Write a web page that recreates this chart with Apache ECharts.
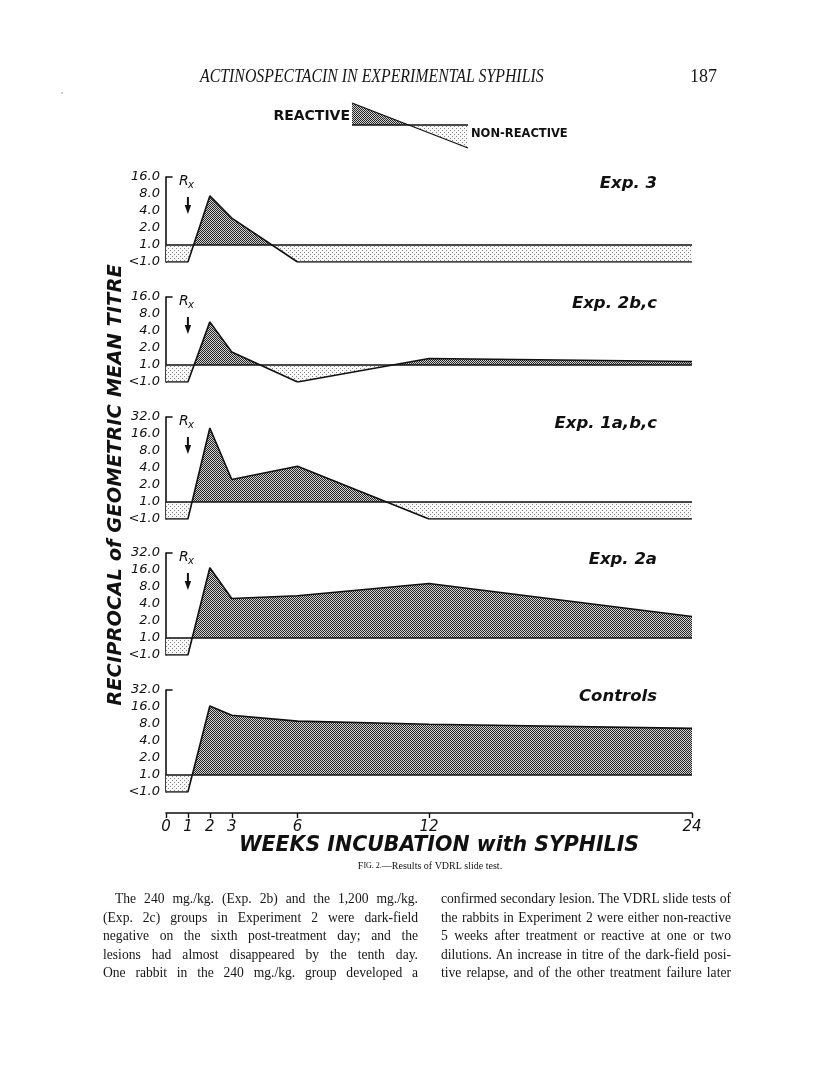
<!DOCTYPE html>
<html>
<head>
<meta charset="utf-8">
<title>Results of VDRL slide test</title>
<script src="https://cdn.jsdelivr.net/npm/echarts@6.0.0/dist/echarts.min.js"></script>
<style>
  html, body { margin: 0; padding: 0; background: #fff; overflow: hidden; }
  #page { position: relative; width: 816px; height: 1087px; overflow: hidden; }
  #chart { position: absolute; left: 0; top: 0; width: 816px; height: 1087px; }
  .serif { position: absolute; font-family: "Liberation Serif", serif; color: #161616; white-space: nowrap; }
  .col { position: absolute; top: 890px; font-family: "Liberation Serif", serif; font-size: 13.6px; line-height: 18.5px; color: #161616; }
  .col div { text-align: justify; text-align-last: justify; white-space: nowrap; }
</style>
</head>
<body>
<div id="page">
  <div id="chart"></div>
  <div class="serif" id="runhead" style="left:200px; top:66px; font-size:18px; font-style:italic; transform:scaleX(0.88); transform-origin:left top;">ACTINOSPECTACIN IN EXPERIMENTAL SYPHILIS</div>
  <div class="serif" style="left:690px; top:66px; font-size:18px;">187</div>
  <div class="col" style="left:103px; width:315px;">
    <div style="padding-left:12px;">The 240 mg./kg. (Exp. 2b) and the 1,200 mg./kg.</div>
    <div>(Exp. 2c) groups in Experiment 2 were dark-field</div>
    <div>negative on the sixth post-treatment day; and the</div>
    <div>lesions had almost disappeared by the tenth day.</div>
    <div>One rabbit in the 240 mg./kg. group developed a</div>
  </div>
  <div class="col" style="left:441px; width:290px;">
    <div>confirmed secondary lesion. The VDRL slide tests of</div>
    <div>the rabbits in Experiment 2 were either non-reactive</div>
    <div>5 weeks after treatment or reactive at one or two</div>
    <div>dilutions. An increase in titre of the dark-field posi-</div>
    <div>tive relapse, and of the other treatment failure later</div>
  </div>
</div>
<script>
// weeks after infection at which the titres were plotted
const weeks = [0, 1, 2, 3, 6, 12, 24];
// reciprocal geometric mean titres, 0.5 stands for "<1.0"
const exp3     = [0.5, 0.5, 7.4, 3.0, 0.5, 0.5, 0.5];
const exp2bc   = [0.5, 0.5, 5.8, 1.7, 0.5, 1.3, 1.15];
const exp1abc  = [0.5, 0.5, 20.4, 2.5, 4.3, 0.5, 0.5];
const exp2a    = [0.5, 0.5, 17.5, 5.0, 5.6, 9.2, 2.4];
const controls = [0.5, 0.5, 16.7, 11.4, 9.0, 7.9, 6.7];

const titreTicks = ['<1.0', '1.0', '2.0', '4.0', '8.0', '16.0', '32.0'];
const weekTicks = [0, 1, 2, 3, 6, 12, 24];
const panelNames = ['Exp. 3', 'Exp. 2b,c', 'Exp. 1a,b,c', 'Exp. 2a', 'Controls'];
const panelData = [exp3, exp2bc, exp1abc, exp2a, controls];
const panelMax = [16, 16, 32, 32, 32];
const hasRx = [true, true, true, true, false];

// layout
const panelTop = [177, 297, 417, 553, 690];
const STEP = 17; // px per doubling of titre
const FONT = '"DejaVu Sans", sans-serif';

// stipple textures
function makeTile(size, bg, fg, dots) {
    const c = document.createElement('canvas');
    c.width = c.height = size;
    const g = c.getContext('2d');
    g.fillStyle = bg;
    g.fillRect(0, 0, size, size);
    g.fillStyle = fg;
    dots.forEach(d => g.fillRect(d[0], d[1], 1, 1));
    return c;
}
const darkFill = {image: makeTile(2, '#d2d2d2', '#242424', [[0, 0], [1, 1]]), repeat: 'repeat'};
const lightFill = {image: makeTile(4, '#f8f8f8', '#858585', [[0, 0], [2, 2]]), repeat: 'repeat'};

const grid = [], xAxis = [], yAxis = [], series = [];

panelData.forEach((vals, i) => {
    const topLevel = Math.log2(panelMax[i]);
    const y0 = panelTop[i];
    const pts = weeks.map((w, k) => [w, Math.log2(vals[k])]);
    const g = i * 3;

    // full panel, reactive part (above 1.0), non-reactive part (below 1.0)
    grid.push({left: 166, right: 124, top: y0, height: (topLevel + 1) * STEP});
    grid.push({left: 166, right: 124, top: y0, height: topLevel * STEP});
    grid.push({left: 166, right: 124, top: y0 + topLevel * STEP, height: STEP});

    for (let j = 0; j < 3; j++) {
        xAxis.push({gridIndex: g + j, type: 'value', min: 0, max: 24, show: false});
    }
    yAxis.push({
        gridIndex: g, type: 'value', min: -1, max: topLevel, interval: 1,
        axisLine: {show: true, lineStyle: {color: '#111', width: 1.6}},
        axisTick: {show: false},
        splitLine: {show: false},
        axisLabel: {
            formatter: v => titreTicks[v + 1],
            margin: 6, fontSize: 13, fontStyle: 'italic', fontFamily: FONT, color: '#111'
        }
    });
    yAxis.push({gridIndex: g + 1, type: 'value', min: 0, max: topLevel, show: false});
    yAxis.push({gridIndex: g + 2, type: 'value', min: -1, max: 0, show: false});

    series.push({
        type: 'line', xAxisIndex: g + 1, yAxisIndex: g + 1, data: pts,
        symbol: 'none', silent: true, z: 1,
        lineStyle: {width: 0.01, opacity: 0},
        areaStyle: {color: darkFill, opacity: 1, origin: 'start'}
    });
    series.push({
        type: 'line', xAxisIndex: g + 2, yAxisIndex: g + 2, data: pts,
        symbol: 'none', silent: true, z: 1,
        lineStyle: {width: 0.01, opacity: 0},
        areaStyle: {color: lightFill, opacity: 1, origin: 'end'}
    });
    series.push({
        type: 'line', name: panelNames[i], xAxisIndex: g, yAxisIndex: g, data: pts,
        symbol: 'none', silent: true, z: 3,
        lineStyle: {color: '#111', width: 1.6},
        markLine: {
            silent: true, symbol: 'none', label: {show: false},
            lineStyle: {color: '#111', width: 1.5, type: 'solid'},
            emphasis: {disabled: true},
            data: [
                {yAxis: 0},
                [{coord: [0, topLevel]}, {coord: [0.3, topLevel]}]
            ]
        }
    });
});

// shared week axis under the last panel
xAxis[12] = {
    gridIndex: 12, type: 'value', min: 0, max: 24, position: 'bottom', offset: 21,
    axisLine: {show: true, onZero: false, lineStyle: {color: '#111', width: 1.6}},
    axisTick: {show: true, inside: false, customValues: weekTicks, length: 5, lineStyle: {color: '#111', width: 1.4}},
    axisLabel: {customValues: weekTicks, margin: 7, fontSize: 15, fontStyle: 'italic', fontFamily: FONT, color: '#111'},
    splitLine: {show: false}
};

const chart = echarts.init(document.getElementById('chart'));
chart.setOption({
    animation: false,
    backgroundColor: '#fff',
    grid: grid,
    xAxis: xAxis,
    yAxis: yAxis,
    series: series
});

const graphic = [
    // legend key
    {type: 'polygon', shape: {points: [[352, 103], [352, 125], [409, 125]]}, style: {fill: darkFill}},
    {type: 'polygon', shape: {points: [[409, 125], [468, 125], [468, 148]]}, style: {fill: lightFill}},
    {type: 'line', shape: {x1: 352, y1: 103, x2: 468, y2: 148}, style: {stroke: '#111', lineWidth: 1.2}},
    {type: 'line', shape: {x1: 352, y1: 125, x2: 468, y2: 125}, style: {stroke: '#111', lineWidth: 1.3}},
    {type: 'text', x: 350, y: 116, style: {text: 'REACTIVE', align: 'right', verticalAlign: 'middle', font: 'bold 14px ' + FONT, fill: '#111'}},
    {type: 'text', x: 471, y: 134, style: {text: 'NON-REACTIVE', align: 'left', verticalAlign: 'middle', font: 'bold 11.5px ' + FONT, fill: '#111'}},
    // axis titles
    {type: 'text', x: 116, y: 485, rotation: Math.PI / 2,
        style: {text: 'RECIPROCAL of GEOMETRIC MEAN TITRE', align: 'center', verticalAlign: 'middle', font: 'italic bold 19.5px ' + FONT, fill: '#111'}},
    {type: 'text', x: 439, y: 846,
        style: {text: 'WEEKS INCUBATION with SYPHILIS', align: 'center', verticalAlign: 'middle', font: 'italic bold 20.5px ' + FONT, fill: '#111'}},
    // caption
    {type: 'text', x: 430, y: 866,
        style: {
            text: '{a|F}{b|IG. 2.}{c|—Results of VDRL slide test.}', align: 'center', verticalAlign: 'middle',
            rich: {
                a: {font: '10px "Liberation Serif", serif', fill: '#111'},
                b: {font: '8px "Liberation Serif", serif', fill: '#111'},
                c: {font: '10px "Liberation Serif", serif', fill: '#111'}
            }
        }},
    {type: 'circle', shape: {cx: 62, cy: 93, r: 0.8}, style: {fill: '#888'}}
];

panelNames.forEach((name, i) => {
    graphic.push({type: 'text', x: 657, y: panelTop[i] + 6.5,
        style: {text: name, align: 'right', verticalAlign: 'middle', font: 'italic bold 16.5px ' + FONT, fill: '#111'}});
    if (hasRx[i]) {
        const topLevel = Math.log2(panelMax[i]);
        const p = chart.convertToPixel({gridIndex: i * 3}, [1, topLevel]);
        const x = p[0], t = p[1];
        graphic.push({type: 'text', x: x - 4, y: t + 4,
            style: {text: 'R', align: 'center', verticalAlign: 'middle', font: 'italic 14px ' + FONT, fill: '#111'}});
        graphic.push({type: 'text', x: x + 3, y: t + 8,
            style: {text: 'x', align: 'center', verticalAlign: 'middle', font: 'italic 10px ' + FONT, fill: '#111'}});
        graphic.push({type: 'line', shape: {x1: x, y1: t + 20, x2: x, y2: t + 31}, style: {stroke: '#111', lineWidth: 2}});
        graphic.push({type: 'polygon', shape: {points: [[x - 3.2, t + 28], [x + 3.2, t + 28], [x, t + 37]]}, style: {fill: '#111'}});
    }
});

chart.setOption({graphic: graphic});
</script>
</body>
</html>
